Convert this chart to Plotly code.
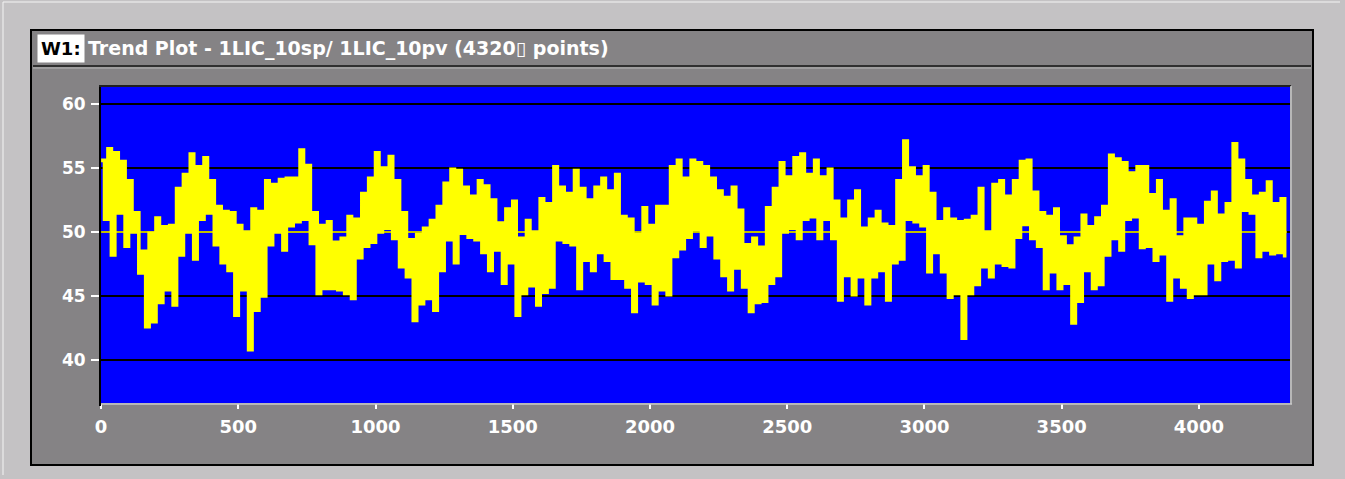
import plotly.graph_objects as go

# ---------------- data ----------------
bucket_width = 25  # x-units per bucket of the PV trace
pv_high = [
    55.6, 56.5, 56.2, 55.5, 54.0, 51.5, 48.5, 49.9, 51.1, 50.4,
    50.5, 53.4, 54.5, 56.1, 55.1, 55.8, 54.0, 52.0, 51.6, 51.5,
    50.5, 50.0, 51.8, 51.6, 54.0, 53.7, 54.1, 54.2, 54.2,
    56.4, 55.2, 51.5, 50.5, 50.8, 49.2, 49.5, 51.2, 51.0, 53.0, 54.2,
    56.2, 55.0, 55.9, 54.0, 51.5, 49.4, 49.8, 50.3, 50.9, 52.0,
    53.8, 54.9, 54.8, 53.5, 52.8, 54.0, 53.6, 52.5,
    50.7, 51.8, 52.4, 49.5, 50.9, 50.0, 52.6, 52.2, 55.1, 53.5,
    53.0, 54.8, 53.4, 52.5, 53.5, 54.2, 53.2, 54.5, 51.2, 51.0,
    49.8, 51.9, 50.5, 52.0, 52.0, 55.1, 55.6, 54.2, 55.6,
    55.4, 55.1, 54.2, 53.2, 52.7, 53.5, 51.7, 49.0, 49.5, 48.8,
    51.9, 53.4, 55.4, 54.3, 55.8, 56.1, 54.5, 55.6, 54.3, 54.9,
    52.4, 51.0, 52.4, 53.2, 50.3, 51.0, 51.6, 50.6, 50.4,
    54.0, 57.1, 55.0, 54.3, 55.1, 53.0, 50.8, 51.8, 51.0, 50.8,
    50.9, 51.2, 53.4, 50.0, 53.7, 54.0, 52.8, 54.0, 55.5, 55.6,
    53.1, 51.5, 51.2, 51.8, 49.6, 48.9, 49.5, 51.3, 50.4,
    51.1, 52.0, 56.0, 55.7, 55.4, 54.6, 55.1, 55.1, 52.9, 54.0,
    51.6, 52.5, 49.6, 51.0, 51.0, 50.5, 52.3, 53.1, 51.3, 52.2,
    56.9, 55.6, 54.0, 52.8, 53.0, 53.9, 52.2, 52.6,
]
pv_low = [
    51.0, 48.2, 51.5, 48.9, 50.0, 46.8, 42.6, 43.0, 44.5, 45.5,
    44.3, 48.2, 50.0, 47.9, 51.0, 51.5, 49.0, 47.6, 47.0, 43.5,
    45.5, 40.8, 43.9, 45.0, 49.0, 50.0, 48.6, 50.5, 50.8,
    51.0, 49.1, 45.2, 45.6, 45.6, 45.5, 45.2, 44.8, 48.0, 48.9, 49.2,
    50.0, 50.3, 49.5, 47.3, 46.5, 43.1, 44.4, 44.8, 43.9, 47.0,
    49.4, 47.6, 49.9, 49.6, 49.4, 48.4, 47.0, 48.6,
    46.0, 47.6, 43.5, 45.2, 45.8, 44.3, 45.3, 45.7, 49.4, 49.2,
    49.0, 45.6, 47.8, 47.0, 48.4, 47.8, 46.4, 46.4, 45.7, 43.8,
    46.2, 46.0, 44.4, 45.5, 45.1, 48.1, 48.7, 49.6, 50.2,
    48.9, 49.8, 48.0, 46.6, 45.5, 47.2, 45.7, 43.8, 44.5, 44.6,
    46.0, 46.6, 50.0, 50.3, 49.5, 51.0, 51.2, 49.5, 51.0, 49.5,
    44.7, 46.6, 45.1, 46.5, 44.4, 46.5, 47.0, 44.7, 47.6,
    47.9, 51.0, 50.8, 50.5, 46.9, 48.4, 46.9, 44.9, 45.2, 41.7,
    45.2, 45.9, 47.3, 46.5, 47.6, 47.4, 47.3, 49.6, 50.6, 49.5,
    48.9, 45.6, 46.9, 45.6, 46.0, 42.9, 44.6, 47.0, 45.6,
    45.9, 48.2, 49.5, 48.6, 51.0, 51.2, 48.8, 48.9, 47.8, 48.3,
    44.7, 46.5, 45.7, 44.9, 45.2, 45.2, 47.6, 46.3, 47.8, 47.9,
    47.3, 51.7, 51.5, 48.1, 48.6, 48.3, 48.4, 48.0,
]
sp_x = [0, 4320]
sp_y = [50, 50]
y_ticks = [40, 45, 50, 55, 60]
x_ticks = [0, 500, 1000, 1500, 2000, 2500, 3000, 3500, 4000]
title_tag = "W1:"
title_text = "Trend Plot - 1LIC_10sp/ 1LIC_10pv (4320\u25af points)"

# ---------------- build PV trace (high/low per bucket) ----------------
pv_x, pv_y = [], []
for i, (h, l) in enumerate(zip(pv_high, pv_low)):
    pv_x += [i * bucket_width, i * bucket_width + bucket_width / 2]
    pv_y += [h, l]

W, H = 1345, 479
L, R, T, B = 100, 1290, 86, 403


def fx(p):
    return (p - L) / (R - L)


def fy(p):
    return (B - p) / (B - T)


fig = go.Figure()
fig.add_trace(go.Scatter(x=pv_x, y=pv_y, mode="lines",
                         line=dict(color="#ffff00", width=3.6, shape="hv"),
                         hoverinfo="skip", showlegend=False))
fig.add_trace(go.Scatter(x=sp_x, y=sp_y, mode="lines",
                         line=dict(color="#ffff00", width=1.6),
                         hoverinfo="skip", showlegend=False))

FONT = "DejaVu Sans"
bold = dict(family=FONT, size=17, color="white", weight="bold")
bold_x = dict(family=FONT, size=18, color="white", weight="bold")

shapes = [
    # outer dark panel
    dict(type="rect", xref="paper", yref="paper", x0=fx(31), x1=fx(1313),
         y0=fy(30), y1=fy(465), fillcolor="#858385",
         line=dict(color="#000000", width=2), layer="below"),
    # blue plotting area
    dict(type="rect", xref="paper", yref="paper", x0=0, x1=1, y0=0, y1=1,
         fillcolor="#0000ff", line=dict(width=0), layer="below"),
    # title separator groove
    dict(type="line", xref="paper", yref="paper", x0=fx(33), x1=fx(1311),
         y0=fy(66), y1=fy(66), line=dict(color="#303030", width=2)),
    dict(type="line", xref="paper", yref="paper", x0=fx(33), x1=fx(1311),
         y0=fy(68), y1=fy(68), line=dict(color="#b8b8b8", width=1)),
    # plot frame: dark left/top, light bottom/right
    dict(type="line", xref="paper", yref="paper", x0=fx(100), x1=fx(100),
         y0=fy(85), y1=fy(406), line=dict(color="#000000", width=2)),
    dict(type="line", xref="paper", yref="paper", x0=fx(99), x1=fx(1291),
         y0=fy(86), y1=fy(86), line=dict(color="#202020", width=2)),
    dict(type="line", xref="paper", yref="paper", x0=fx(101), x1=fx(1292),
         y0=fy(404), y1=fy(404), line=dict(color="#c8c8c8", width=1.5)),
    dict(type="line", xref="paper", yref="paper", x0=fx(1291), x1=fx(1291),
         y0=fy(86), y1=fy(404), line=dict(color="#c8c8c8", width=1.5)),
    # outer window edges
    dict(type="line", xref="paper", yref="paper", x0=fx(3), x1=fx(3),
         y0=fy(2), y1=fy(475), line=dict(color="#f4f4f4", width=1)),
    dict(type="line", xref="paper", yref="paper", x0=fx(3), x1=fx(1340),
         y0=fy(2), y1=fy(2), line=dict(color="#f4f4f4", width=1)),
]

annotations = [
    dict(xref="paper", yref="paper", x=fx(37), y=fy(48), xanchor="left",
         yanchor="middle", text=title_tag, showarrow=False,
         bgcolor="white", borderpad=3,
         font=dict(family=FONT, size=18, color="black", weight="bold")),
    dict(xref="paper", yref="paper", x=fx(86), y=fy(48), xanchor="left",
         yanchor="middle", text=title_text, showarrow=False,
         font=dict(family=FONT, size=19, color="white", weight="bold")),
]

fig.update_layout(
    width=W, height=H, autosize=False,
    margin=dict(l=L, r=W - R, t=T, b=H - B, pad=0),
    paper_bgcolor="#c4c2c4", plot_bgcolor="#0000ff",
    shapes=shapes, annotations=annotations, showlegend=False,
    xaxis=dict(range=[-4, 4332], tickvals=x_ticks, ticktext=[str(v) for v in x_ticks],
               showgrid=False, zeroline=False, showline=False,
               ticks="outside", ticklen=5, tickwidth=2, tickcolor="white",
               tickfont=bold_x, ticklabelstandoff=2),
    yaxis=dict(range=[36.64, 61.41], tickvals=y_ticks, ticktext=[str(v) for v in y_ticks],
               showgrid=True, gridcolor="#000000", gridwidth=2,
               zeroline=False, showline=False,
               ticks="outside", ticklen=8, tickwidth=2, tickcolor="white",
               tickfont=bold, ticklabelstandoff=2),
)

fig.write_html("out.html")
